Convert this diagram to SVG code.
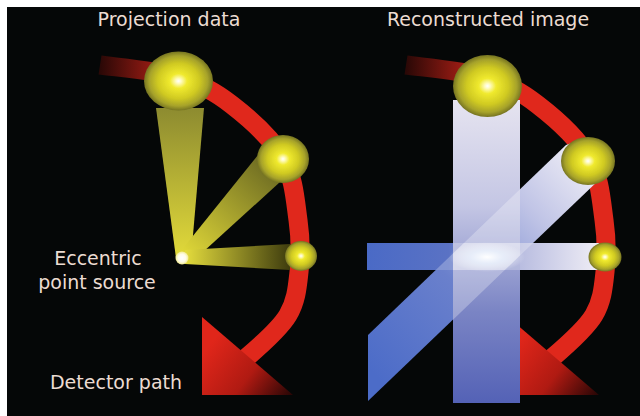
<svg xmlns="http://www.w3.org/2000/svg" width="640" height="416" viewBox="0 0 640 416">
  <defs>
    <style>
      .label { font-family: "DejaVu Sans", "Liberation Sans", sans-serif; font-size: 19px; fill: #ecdcd2; text-anchor: middle; }
      .track { fill: none; stroke: url(#trackFade); stroke-width: 19; }
      .head { fill: url(#headFade); }
      .ball { fill: url(#ballGlow); filter: url(#soft); }
      .overlap { fill: #ffffff; }
    </style>
    <filter id="soft" x="-10%" y="-10%" width="120%" height="120%">
      <feGaussianBlur stdDeviation="0.7"/>
    </filter>
    <linearGradient id="trackFade" gradientUnits="userSpaceOnUse" x1="100" y1="0" x2="190" y2="0">
      <stop offset="0" stop-color="#2a0806"/>
      <stop offset="1" stop-color="#e0281c"/>
    </linearGradient>
    <linearGradient id="headFade" gradientUnits="userSpaceOnUse" x1="215" y1="338" x2="295" y2="398">
      <stop offset="0" stop-color="#e0261a"/>
      <stop offset="0.5" stop-color="#b01a12"/>
      <stop offset="1" stop-color="#1a0404"/>
    </linearGradient>
    <radialGradient id="ballGlow">
      <stop offset="0" stop-color="#ffffff"/>
      <stop offset="0.08" stop-color="#fffbc0"/>
      <stop offset="0.25" stop-color="#f0ea2e"/>
      <stop offset="0.6" stop-color="#d0ca22"/>
      <stop offset="0.85" stop-color="#a6a22a"/>
      <stop offset="1" stop-color="#767422"/>
    </radialGradient>
    <radialGradient id="sourceGlow">
      <stop offset="0" stop-color="#ffffff"/>
      <stop offset="0.6" stop-color="#fffce8"/>
      <stop offset="1" stop-color="#f2ec90"/>
    </radialGradient>
    <!-- yellow projection rays -->
    <linearGradient id="ray1" gradientUnits="userSpaceOnUse" x1="0" y1="110" x2="0" y2="258">
      <stop offset="0" stop-color="#8e8c30"/>
      <stop offset="1" stop-color="#e2da3a"/>
    </linearGradient>
    <linearGradient id="ray2" gradientUnits="userSpaceOnUse" x1="272" y1="165" x2="186" y2="256">
      <stop offset="0" stop-color="#6c6a22"/>
      <stop offset="1" stop-color="#e0d838"/>
    </linearGradient>
    <linearGradient id="ray3" gradientUnits="userSpaceOnUse" x1="290" y1="0" x2="186" y2="0">
      <stop offset="0" stop-color="#3e3c0e"/>
      <stop offset="1" stop-color="#e2da3c"/>
    </linearGradient>
    <!-- blue back-projection bands -->
    <linearGradient id="bandV" gradientUnits="userSpaceOnUse" x1="0" y1="100" x2="0" y2="403">
      <stop offset="0" stop-color="#e6e4f0"/>
      <stop offset="0.35" stop-color="#c4c6e4"/>
      <stop offset="0.7" stop-color="#7a84c4"/>
      <stop offset="1" stop-color="#5462b6"/>
    </linearGradient>
    <linearGradient id="bandH" gradientUnits="userSpaceOnUse" x1="367" y1="0" x2="600" y2="0">
      <stop offset="0" stop-color="#4a6ac6"/>
      <stop offset="0.35" stop-color="#5a72c4"/>
      <stop offset="0.65" stop-color="#b8bce0"/>
      <stop offset="1" stop-color="#f0eef6"/>
    </linearGradient>
    <linearGradient id="bandD" gradientUnits="userSpaceOnUse" x1="368" y1="368" x2="588" y2="160">
      <stop offset="0" stop-color="#4c6cc8"/>
      <stop offset="0.4" stop-color="#6a80cc"/>
      <stop offset="0.75" stop-color="#c0c4e6"/>
      <stop offset="1" stop-color="#eeedf6"/>
    </linearGradient>
    <radialGradient id="hotSpot">
      <stop offset="0" stop-color="#ffffff" stop-opacity="1"/>
      <stop offset="0.45" stop-color="#eef6ff" stop-opacity="0.65"/>
      <stop offset="1" stop-color="#ffffff" stop-opacity="0"/>
    </radialGradient>
    <clipPath id="inVertical">
      <rect x="453" y="100" width="67" height="303"/>
    </clipPath>
    <clipPath id="inHorizontal">
      <rect x="367" y="243" width="232" height="27"/>
    </clipPath>
    <path id="detectorTrack" d="M100,65 C113,67 156,70.3 178,77 C200,83.7 214.5,91.5 232,105 C249.5,118.5 272,138.8 283,158 C294,177.2 295.3,201 298,220 C300.7,239 300.7,256.2 299,272 C297.3,287.8 296.2,301 288,315 C279.8,329 256.3,349.2 246,358"/>
    <polygon id="detectorHead" points="202,317 202,395 293,395"/>
    <polygon id="diagonalBand" points="368,335 566,145 580,140 606,170 601,178 368,401"/>
  </defs>

  <rect width="640" height="416" fill="#ffffff"/>
  <rect x="7" y="7" width="633" height="409" fill="#050707"/>

  <!-- left panel: projection data -->
  <g id="left-track">
    <use href="#detectorTrack" class="track"/>
    <use href="#detectorHead" class="head"/>
  </g>
  <g id="left-rays">
    <polygon points="156,108 204,108 191,258 176,258" fill="url(#ray1)"/>
    <polygon points="180,252 262,150 280,182 192,262" fill="url(#ray2)"/>
    <polygon points="185,250 290,244 290,270 185,264" fill="url(#ray3)"/>
  </g>
  <g id="point-source">
    <circle cx="182" cy="258" r="6.5" fill="url(#sourceGlow)" filter="url(#soft)"/>
  </g>
  <g id="left-detectors">
    <ellipse cx="178.5" cy="81" rx="34.5" ry="29.5" class="ball"/>
    <ellipse cx="283" cy="159" rx="26" ry="24" class="ball"/>
    <ellipse cx="301" cy="256" rx="16" ry="15" class="ball"/>
  </g>

  <!-- right panel: reconstructed image -->
  <g id="right-track" transform="translate(306,0)">
    <use href="#detectorTrack" class="track"/>
    <use href="#detectorHead" class="head"/>
  </g>
  <g id="right-bands">
    <use href="#diagonalBand" fill="url(#bandD)"/>
    <rect x="367" y="243" width="232" height="27" fill="url(#bandH)"/>
    <rect x="453" y="100" width="67" height="303" fill="url(#bandV)"/>
    <!-- where bands cross, the summed density shows lighter -->
    <use href="#diagonalBand" class="overlap" clip-path="url(#inVertical)" opacity="0.28"/>
    <use href="#diagonalBand" class="overlap" clip-path="url(#inHorizontal)" opacity="0.25"/>
    <rect x="453" y="243" width="67" height="27" class="overlap" opacity="0.25"/>
  </g>
  <g id="hot-spot">
    <ellipse cx="487" cy="257" rx="38" ry="15" fill="url(#hotSpot)"/>
  </g>
  <g id="right-detectors">
    <ellipse cx="487.5" cy="86" rx="34.5" ry="31" class="ball"/>
    <ellipse cx="588" cy="161" rx="27" ry="24" class="ball"/>
    <ellipse cx="605" cy="257" rx="16.5" ry="14.5" class="ball"/>
  </g>

  <g id="labels">
    <text class="label" x="169" y="26">Projection data</text>
    <text class="label" x="488" y="26">Reconstructed image</text>
    <text class="label" x="98" y="265">Eccentric</text>
    <text class="label" x="97" y="289">point source</text>
    <text class="label" x="116" y="389">Detector path</text>
  </g>
</svg>
